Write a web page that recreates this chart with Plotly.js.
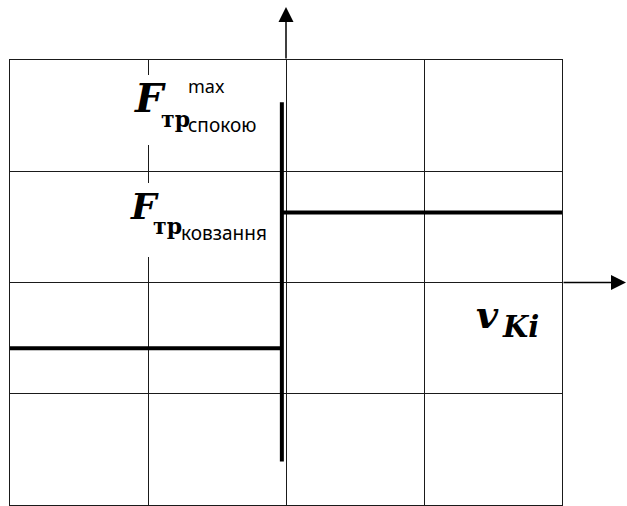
<!DOCTYPE html>
<html>
<head>
<meta charset="utf-8">
<script src="https://cdn.plot.ly/plotly-3.0.1.min.js"></script>
<style>html,body{margin:0;padding:0;background:#fff;}#chart{width:627px;height:506px;}</style>
</head>
<body>
<div id="chart"></div>
<script>
// Friction force vs sliding velocity (step characteristic)
const staticV   = [-0.03, -0.03];      // vertical jump at v = 0
const staticF   = [-1.61, 1.62];       // from -Fmax to +Fmax
const slidePosV = [-0.03, 2];          // positive velocity branch
const slidePosF = [0.63, 0.63];
const slideNegV = [-2, -0.03];         // negative velocity branch
const slideNegF = [-0.59, -0.59];
const xTickVals = [-2, -1, 0, 1, 2];
const yTickVals = [-2, -1, 0, 1, 2];

// pixel helpers for label placement (plot area: x 10..562, y 60..505)
const X = px => (px - 10) / 138 - 2;
const Y = py => 2 - (py - 60) / 111.25;

const thick = {color: '#000', width: 4};
const traces = [
  {x: staticV, y: staticF, mode: 'lines', line: thick, hoverinfo: 'skip'},
  {x: slidePosV, y: slidePosF, mode: 'lines', line: thick, hoverinfo: 'skip'},
  {x: slideNegV, y: slideNegF, mode: 'lines', line: thick, hoverinfo: 'skip'}
];

const serif = 'DejaVu Serif';
const sans = 'Noto Sans';
function lab(px, py, text, fam, size, weight, style, extra) {
  return Object.assign({
    xref: 'x', yref: 'y', x: X(px), y: Y(py), xanchor: 'left', yanchor: 'middle',
    text: text, showarrow: false, borderpad: 0,
    font: {family: fam, size: size, color: '#000', weight: weight, style: style}
  }, extra || {});
}

const annotations = [
  // axis arrows
  {xref: 'x', x: 0, yref: 'paper', y: 1 + 53/445, ax: 0, ay: 53, axref: 'pixel', ayref: 'pixel',
   text: '', showarrow: true, arrowhead: 2, arrowsize: 2, arrowwidth: 1.5, arrowcolor: '#000', standoff: 0},
  {xref: 'paper', x: 1 + 64/552, yref: 'y', y: 0, ax: -64, ay: 0, axref: 'pixel', ayref: 'pixel',
   text: '', showarrow: true, arrowhead: 2, arrowsize: 2, arrowwidth: 1.5, arrowcolor: '#000', standoff: 0},
  // label 1: F тр спокою max
  lab(133, 97, 'F', serif, 40, 'bold', 'italic'),
  lab(160, 119, 'тр', serif, 22, 'bold', 'normal'),
  lab(187, 125, 'спокою', sans, 19, 'normal', 'normal'),
  lab(187, 86, 'max', sans, 18, 'normal', 'normal'),
  // label 2: F тр ковзання
  lab(129, 206, 'F', serif, 36, 'bold', 'italic'),
  lab(152, 226, 'тр', serif, 22, 'bold', 'normal'),
  lab(180, 233, 'ковзання', sans, 19, 'normal', 'normal'),
  // v_Ki
  lab(475, 314, 'v', serif, 38, 'bold', 'italic'),
  lab(501, 327, 'Ki', serif, 29, 'bold', 'italic')
];

// white text-box backgrounds that interrupt the x = -1 gridline behind the labels
const shapes = [
  {type: 'rect', layer: 'above', xref: 'x', yref: 'y', x0: X(142), x1: X(154), y0: Y(75), y1: Y(145),
   fillcolor: '#fff', line: {width: 0}},
  {type: 'rect', layer: 'above', xref: 'x', yref: 'y', x0: X(142), x1: X(154), y0: Y(183), y1: Y(257),
   fillcolor: '#fff', line: {width: 0}}
];

const axisCommon = {
  range: [-2, 2], showticklabels: false, ticks: '',
  showgrid: true, gridcolor: '#1a1a1a', gridwidth: 1,
  zeroline: true, zerolinecolor: '#1a1a1a', zerolinewidth: 1,
  showline: true, mirror: true, linecolor: '#1a1a1a', linewidth: 1,
  fixedrange: true
};

const layout = {
  width: 627, height: 506,
  margin: {l: 10, r: 65, t: 60, b: 1, pad: 0},
  paper_bgcolor: '#fff', plot_bgcolor: '#fff',
  showlegend: false,
  xaxis: Object.assign({}, axisCommon, {tickmode: 'array', tickvals: xTickVals}),
  yaxis: Object.assign({}, axisCommon, {tickmode: 'array', tickvals: yTickVals}),
  shapes: shapes,
  annotations: annotations
};

Plotly.newPlot('chart', traces, layout, {displayModeBar: false, staticPlot: true});
</script>
</body>
</html>
